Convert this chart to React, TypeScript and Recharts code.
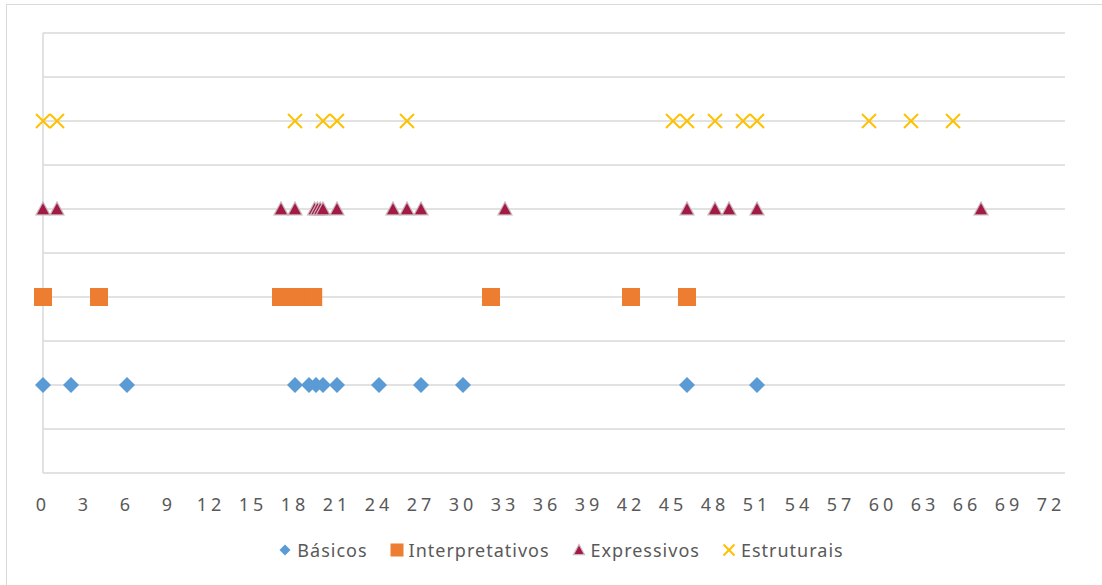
import React from "react";
import {
  ScatterChart,
  Scatter,
  XAxis,
  YAxis,
  CartesianGrid,
  ReferenceLine,
  Legend,
} from "recharts";

// x positions of each occurrence, per category
const BASICOS = [0, 2, 6, 18, 19, 19.5, 20, 21, 24, 27, 30, 46, 51];
const INTERPRETATIVOS = [0, 4, 17, 18, 19, 19.3, 32, 42, 46];
const EXPRESSIVOS = [0, 1, 17, 18, 19.4, 19.6, 19.8, 20, 21, 25, 26, 27, 33, 46, 48, 49, 51, 67];
const ESTRUTURAIS = [0, 1, 18, 20, 21, 26, 45, 46, 48, 50, 51, 59, 62, 65];

// row (y value) each category sits on
const ROWS = [2, 4, 6, 8];

const X_TICKS = [0, 3, 6, 9, 12, 15, 18, 21, 24, 27, 30, 33, 36, 39, 42, 45, 48, 51, 54, 57, 60, 63, 66, 69, 72];
const Y_TICKS = [0, 1, 2, 3, 4, 5, 6, 7, 8, 9, 10];

const BLUE = "#5B9BD5";
const ORANGE = "#ED7D31";
const CRIMSON = "#A21B45";
const GOLD = "#FFC000";
const GRID = "#D9D9D9";
const TEXT = "#595959";
const FONT = "'Noto Sans', 'Open Sans', sans-serif";

const toPoints = (xs: number[], row: number) => xs.map((x) => ({ x, y: row }));

function Diamond({ cx, cy, s = 8 }: any) {
  return (
    <path
      d={`M${cx},${cy - s} L${cx + s},${cy} L${cx},${cy + s} L${cx - s},${cy} Z`}
      fill={BLUE}
    />
  );
}

function Square({ cx, cy, s = 9 }: any) {
  return <rect x={cx - s} y={cy - s} width={s * 2} height={s * 2} fill={ORANGE} />;
}

function Triangle({ cx, cy, s = 7 }: any) {
  return (
    <path
      d={`M${cx},${cy - s} L${cx + s},${cy + s * 0.85} L${cx - s},${cy + s * 0.85} Z`}
      fill={CRIMSON}
      stroke="#C9B5BC"
      strokeWidth={1.2}
    />
  );
}

function Cross({ cx, cy, s = 7 }: any) {
  return (
    <g stroke={GOLD} strokeWidth={2}>
      <line x1={cx - s} y1={cy - s} x2={cx + s} y2={cy + s} />
      <line x1={cx - s} y1={cy + s} x2={cx + s} y2={cy - s} />
    </g>
  );
}

const SERIES = [
  { name: "Básicos", data: toPoints(BASICOS, ROWS[0]), Shape: Diamond },
  { name: "Interpretativos", data: toPoints(INTERPRETATIVOS, ROWS[1]), Shape: Square },
  { name: "Expressivos", data: toPoints(EXPRESSIVOS, ROWS[2]), Shape: Triangle },
  { name: "Estruturais", data: toPoints(ESTRUTURAIS, ROWS[3]), Shape: Cross },
];

function LegendContent() {
  return (
    <div
      style={{
        display: "flex",
        justifyContent: "center",
        gap: 22,
        fontFamily: FONT,
        fontSize: 18,
        letterSpacing: 1,
        lineHeight: "22px",
        color: TEXT,
        paddingLeft: 20,
      }}
    >
      {SERIES.map(({ name, Shape }) => (
        <span key={name} style={{ display: "flex", alignItems: "center", gap: 5 }}>
          <svg width={14} height={14}>
            <Shape cx={7} cy={7} s={name === "Interpretativos" ? 6.5 : 5.5} />
          </svg>
          {name}
        </span>
      ))}
    </div>
  );
}

export default function App() {
  return (
    <div
      style={{
        position: "fixed",
        left: 0,
        top: 0,
        width: 1102,
        height: 585,
        overflow: "hidden",
        background: "#fff",
      }}
    >
      {/* outer chart-area frame, runs past the right and bottom edges */}
      <div
        style={{
          position: "absolute",
          left: 6,
          top: 4,
          width: 1120,
          height: 620,
          border: "1.5px solid #D9D9D9",
          boxSizing: "border-box",
        }}
      />
      <ScatterChart
        width={1102}
        height={585}
        margin={{ top: 33, right: 37, bottom: 50, left: 43 }}
        style={{ position: "absolute", left: 0, top: 0 }}
      >
        <CartesianGrid vertical={false} stroke={GRID} strokeWidth={1.5} />
        <XAxis
          type="number"
          dataKey="x"
          domain={[0, 73]}
          ticks={X_TICKS}
          interval={0}
          height={40}
          axisLine={false}
          tickLine={false}
          tickSize={6}
          tickMargin={19}
          tick={{ fill: TEXT, fontSize: 18, fontFamily: FONT, letterSpacing: 4 }}
        />
        <YAxis type="number" dataKey="y" domain={[0, 10]} ticks={Y_TICKS} hide />
        <ReferenceLine x={0} stroke={GRID} strokeWidth={1.5} />
        {SERIES.map(({ name, data, Shape }) => (
          <Scatter
            key={name}
            name={name}
            data={data}
            shape={(p: any) => <Shape cx={p.cx} cy={p.cy} />}
            isAnimationActive={false}
          />
        ))}
        <Legend
          content={<LegendContent />}
          wrapperStyle={{ position: "absolute", top: 539, left: 0, width: 1102 }}
        />
      </ScatterChart>
    </div>
  );
}
